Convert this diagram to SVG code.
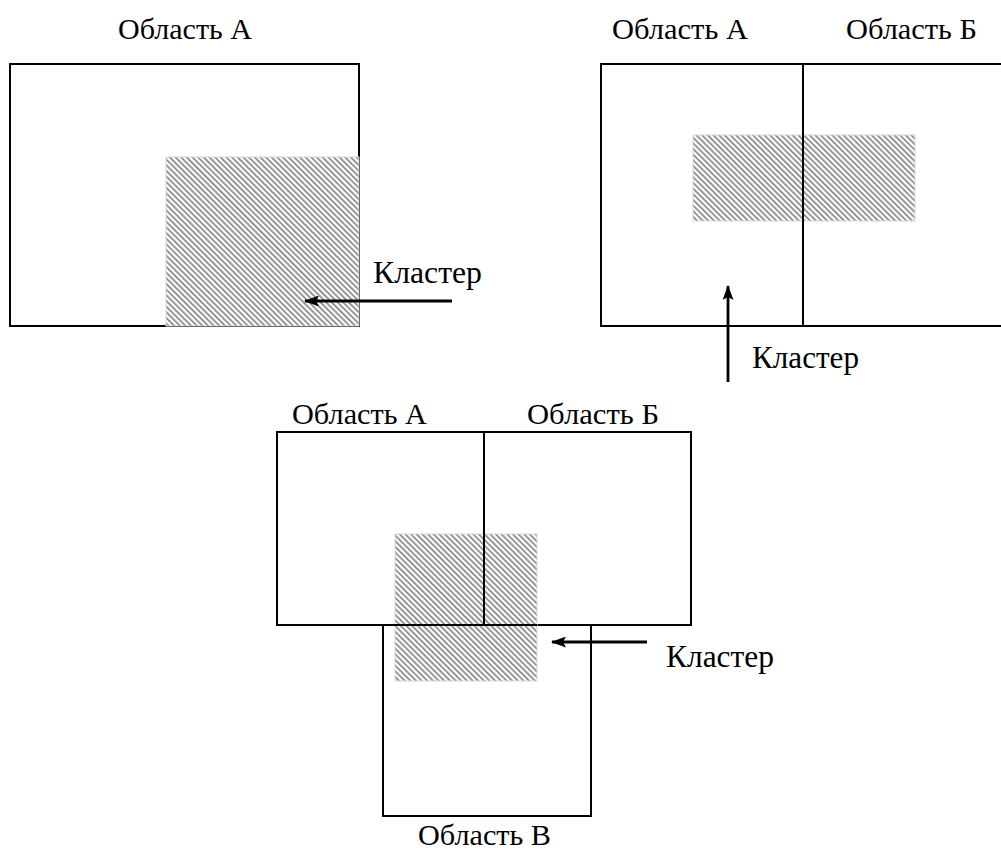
<svg xmlns="http://www.w3.org/2000/svg" width="1001" height="852" viewBox="0 0 1001 852">
<style>
.t{font-family:"Liberation Serif","Times New Roman",serif;font-size:29px;fill:#000}
.k{font-family:"Liberation Serif","Times New Roman",serif;font-size:31px;fill:#000}
.b{fill:none;stroke:#000;stroke-width:2}
.h{fill:url(#hatch);stroke:#d8d8d8;stroke-width:1}
.c{stroke:#000;stroke-width:2.8;fill:none;marker-end:url(#ah)}
</style>
<defs>
<pattern id="hatch" patternUnits="userSpaceOnUse" width="4" height="4" patternTransform="rotate(-45)">
<rect width="4" height="4" fill="#ffffff"/>
<rect width="1.6" height="4" fill="#808080"/>
</pattern>
<marker id="ah" markerWidth="15" markerHeight="11" refX="14" refY="5.5" orient="auto" markerUnits="userSpaceOnUse">
<path d="M0,0 L15,5.5 L0,11 L3,5.5 Z" fill="#000"/>
</marker>
</defs>
<g id="panel1">
<rect class="b" x="10" y="64" width="349" height="262"/>
<rect class="h" x="166" y="157" width="193" height="169"/>
<text class="t" x="118" y="39" textLength="134" lengthAdjust="spacingAndGlyphs">Область А</text>
<text class="k" x="373" y="283" textLength="109" lengthAdjust="spacingAndGlyphs">Кластер</text>
</g>
<g id="panel2">
<path class="b" d="M1003,64 H601 V326 H1003"/>
<rect class="h" x="693" y="135" width="222" height="86"/>
<line class="b" x1="803" y1="64" x2="803" y2="326"/>
<text class="t" x="612" y="39" textLength="136" lengthAdjust="spacingAndGlyphs">Область А</text>
<text class="t" x="846" y="39" textLength="131" lengthAdjust="spacingAndGlyphs">Область Б</text>
<text class="k" x="752" y="368" textLength="107" lengthAdjust="spacingAndGlyphs">Кластер</text>
</g>
<g id="panel3">
<rect class="b" x="277" y="432" width="414" height="193"/>
<rect class="b" x="383" y="625" width="208" height="191"/>
<rect class="h" x="395" y="534" width="142" height="147"/>
<line class="b" x1="484" y1="432" x2="484" y2="625"/>
<line class="b" x1="383" y1="625" x2="537" y2="625"/>
<text class="t" x="292" y="424" textLength="135" lengthAdjust="spacingAndGlyphs">Область А</text>
<text class="t" x="527" y="424" textLength="132" lengthAdjust="spacingAndGlyphs">Область Б</text>
<text class="t" x="418" y="845" textLength="133" lengthAdjust="spacingAndGlyphs">Область В</text>
<text class="k" x="666" y="667" textLength="108" lengthAdjust="spacingAndGlyphs">Кластер</text>
</g>
<g id="connectors">
<line class="c" x1="452" y1="301" x2="305" y2="301"/>
<line class="c" x1="728" y1="382" x2="728" y2="286"/>
<line class="c" x1="647" y1="642" x2="552" y2="642"/>
</g>
</svg>
